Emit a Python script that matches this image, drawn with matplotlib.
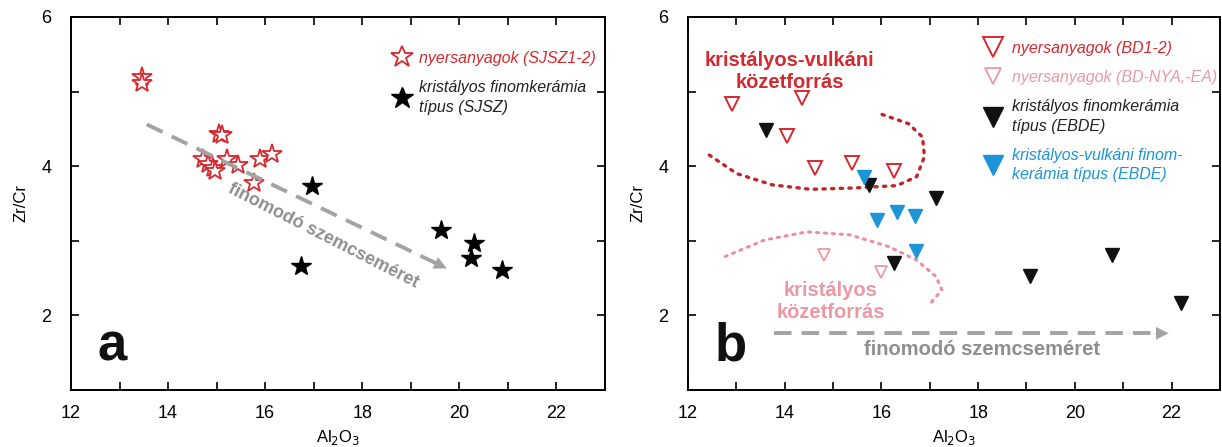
import matplotlib
matplotlib.use("Agg")
from matplotlib import pyplot as plt
from matplotlib.ticker import MultipleLocator

plt.rcParams['font.family'] = ['Liberation Sans', 'DejaVu Sans']

# panel a: raw materials (open red stars) and fine ware (black stars)
sjsz_raw_al = [13.46, 13.47, 14.72, 14.82, 14.93, 14.97, 15.05, 15.12, 15.21,
               15.43, 15.89, 16.15, 15.77]
sjsz_raw_zr = [5.19, 5.12, 4.10, 4.03, 3.97, 3.93, 4.43, 4.42, 4.10,
               4.01, 4.10, 4.16, 3.78]
sjsz_ware_al = [16.96, 16.74, 19.62, 20.30, 20.23, 20.88]
sjsz_ware_zr = [3.73, 2.66, 3.15, 2.97, 2.77, 2.61]

# panel b
bd_raw_al = [12.91, 14.35, 14.04, 14.63, 15.39, 16.25]
bd_raw_zr = [4.84, 4.92, 4.41, 3.98, 4.04, 3.94]
bdnya_al = [14.81, 16.00]
bdnya_zr = [2.81, 2.58]
ebde_al = [13.62, 15.74, 17.13, 16.26, 19.07, 20.76, 22.19]
ebde_zr = [4.48, 3.75, 3.58, 2.70, 2.53, 2.81, 2.16]
ebde_v_al = [15.63, 15.90, 16.32, 16.69, 16.71]
ebde_v_zr = [3.86, 3.28, 3.38, 3.33, 2.86]

# hand drawn source fields (dotted outlines)
volc_field_al = [12.44, 13.01, 13.74, 14.54, 15.51, 16.32, 16.73, 16.89,
                 16.85, 16.56, 15.94]
volc_field_zr = [4.15, 3.90, 3.75, 3.69, 3.71, 3.74, 3.86, 4.13,
                 4.39, 4.57, 4.71]
cryst_field_al = [12.77, 13.58, 14.46, 15.35, 16.16, 16.73, 17.13, 17.25, 16.97]
cryst_field_zr = [2.79, 3.01, 3.12, 3.08, 2.92, 2.74, 2.52, 2.34, 2.13]

# grain size arrows (start, end)
arrow_a = [(13.56, 4.56), (19.74, 2.63)]
arrow_b = [(13.78, 1.76), (21.94, 1.76)]

RED = '#d42a2f'
PINK = '#eb98a4'
BLUE = '#1b95d8'
GREY = '#a3a3a3'
GREY_TXT = '#8e8e8e'

fig = plt.figure(figsize=(12.22, 4.47), dpi=100)
ax_a = fig.add_axes([0.0581, 0.1275, 0.437, 0.8345])
ax_b = fig.add_axes([0.563, 0.1275, 0.4353, 0.8345])


def style_axes(ax):
    ax.set_xlim(12, 23)
    ax.set_ylim(1, 6)
    ax.xaxis.set_major_locator(MultipleLocator(2))
    ax.xaxis.set_minor_locator(MultipleLocator(1))
    ax.yaxis.set_major_locator(MultipleLocator(2))
    ax.yaxis.set_minor_locator(MultipleLocator(1))
    ax.tick_params(which='both', direction='in', top=True, right=True,
                   length=6, width=1.2, labelsize=13)
    ax.tick_params(axis='x', pad=11)
    ax.tick_params(axis='y', pad=14)
    for sp in ax.spines.values():
        sp.set_linewidth(1.4)
    ax.set_xlabel(r'Al$_2$O$_3$', fontsize=12, labelpad=4)
    ax.set_ylabel('Zr/Cr', fontsize=12, labelpad=9)


def grain_arrow(ax, pts):
    (x0, y0), (x1, y1) = pts
    ax.plot([x0, x0 + 0.97 * (x1 - x0)], [y0, y0 + 0.97 * (y1 - y0)],
            color=GREY, lw=2.8, dashes=(4.5, 2.6), solid_capstyle='butt')
    ax.annotate('', xy=(x1, y1), xytext=(x0 + 0.9 * (x1 - x0), y0 + 0.9 * (y1 - y0)),
                arrowprops=dict(arrowstyle='-|>,head_length=0.9,head_width=0.45',
                                color=GREY, lw=0.1, shrinkA=0, shrinkB=0))


# ---- panel a ----
style_axes(ax_a)
ax_a.plot(sjsz_raw_al, sjsz_raw_zr, ls='none', marker='*', ms=15,
          mfc='white', mec=RED, mew=1.3, label='nyersanyagok (SJSZ1-2)')
ax_a.plot(sjsz_ware_al, sjsz_ware_zr, ls='none', marker='*', ms=15,
          color='black', label='kristályos finomkerámia\ntípus (SJSZ)')
grain_arrow(ax_a, arrow_a)
ax_a.text(17.2, 3.06, 'finomodó szemcseméret', rotation=-27, color=GREY_TXT,
          fontsize=13, fontweight='bold', ha='center', va='center',
          rotation_mode='anchor')
ax_a.text(0.05, 0.08, 'a', transform=ax_a.transAxes, fontsize=38,
          fontweight='bold', color='#111111')
leg_a = ax_a.legend(loc='upper left', bbox_to_anchor=(0.585, 0.93),
                    frameon=False, borderpad=0, handlelength=1.3,
                    handletextpad=0.45, labelspacing=0.9, markerscale=1.1,
                    prop={'style': 'italic', 'size': 11.5})
for txt, c in zip(leg_a.get_texts(), [RED, '#222222']):
    txt.set_color(c)
    txt.set_linespacing(1.35)

# ---- panel b ----
style_axes(ax_b)
ax_b.plot(volc_field_al, volc_field_zr, color='#bf262c', lw=2.4,
          ls=(0, (0.7, 1.9)), dash_capstyle='round')
ax_b.plot(cryst_field_al, cryst_field_zr, color='#ec8f9c', lw=2.2,
          ls=(0, (0.7, 1.9)), dash_capstyle='round')
ax_b.plot(bd_raw_al, bd_raw_zr, ls='none', marker='v', ms=10,
          mfc='white', mec=RED, mew=1.4, label='nyersanyagok (BD1-2)')
ax_b.plot(bdnya_al, bdnya_zr, ls='none', marker='v', ms=8.5,
          mfc='white', mec=PINK, mew=1.3, label='nyersanyagok (BD-NYA,-EA)')
ax_b.plot(ebde_al, ebde_zr, ls='none', marker='v', ms=10, color='#111111',
          label='kristályos finomkerámia\ntípus (EBDE)')
ax_b.plot(ebde_v_al, ebde_v_zr, ls='none', marker='v', ms=10, color=BLUE,
          label='kristályos-vulkáni finom-\nkerámia típus (EBDE)')
grain_arrow(ax_b, arrow_b)
ax_b.text(18.08, 1.54, 'finomodó szemcseméret', color=GREY_TXT, fontsize=14.5,
          fontweight='bold', ha='center', va='center')
ax_b.text(14.1, 5.27, 'kristályos-vulkáni\nközetforrás', color=RED,
          fontsize=14.5, fontweight='bold', ha='center', va='center',
          linespacing=1.2)
ax_b.text(14.95, 2.18, 'kristályos\nközetforrás', color=PINK, fontsize=14.5,
          fontweight='bold', ha='center', va='center', linespacing=1.2)
ax_b.text(0.05, 0.08, 'b', transform=ax_b.transAxes, fontsize=38,
          fontweight='bold', color='#111111')
leg_b = ax_b.legend(loc='upper left', bbox_to_anchor=(0.535, 0.958),
                    frameon=False, borderpad=0, handlelength=1.6,
                    handletextpad=0.35, labelspacing=0.9, markerscale=1.4,
                    prop={'style': 'italic', 'size': 11.5})
for txt, c in zip(leg_b.get_texts(), [RED, PINK, '#222222', BLUE]):
    txt.set_color(c)
    txt.set_linespacing(1.35)

fig.savefig('out.png', dpi=100)
